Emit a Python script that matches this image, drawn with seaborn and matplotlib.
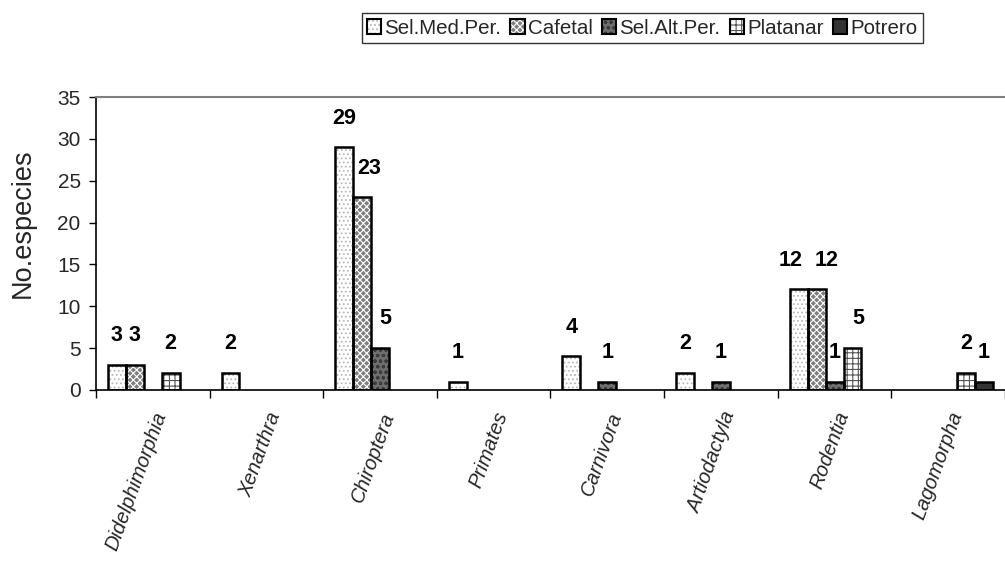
import matplotlib
matplotlib.use("Agg")
import matplotlib.pyplot as plt
from matplotlib.patches import Patch, Rectangle
from matplotlib.legend_handler import HandlerTuple
from matplotlib.ticker import FixedLocator, MultipleLocator
import seaborn as sns
import pandas as pd
import numpy as np

# --- data -------------------------------------------------------------
ordenes = ["Didelphimorphia", "Xenarthra", "Chiroptera", "Primates",
           "Carnivora", "Artiodactyla", "Rodentia", "Lagomorpha"]
habitats = ["Sel.Med.Per.", "Cafetal", "Sel.Alt.Per.", "Platanar", "Potrero"]

sel_med_per = [3, 2, 29, 1, 4, 2, 12, 0]
cafetal     = [3, 0, 23, 0, 0, 0, 12, 0]
sel_alt_per = [0, 0, 5, 0, 1, 1, 1, 0]
platanar    = [2, 0, 0, 0, 0, 0, 5, 2]
potrero     = [0, 0, 0, 0, 0, 0, 0, 1]

series = [sel_med_per, cafetal, sel_alt_per, platanar, potrero]

df = pd.DataFrame({
    "orden": np.tile(ordenes, len(habitats)),
    "habitat": np.repeat(habitats, len(ordenes)),
    "n": np.concatenate(series),
})

# --- styles -----------------------------------------------------------
face = ["#ffffff", "#7e7e7e", "#6e6e6e", "#ffffff", "#333333"]
hatch = ["....", "xxxxx", "ooo", "+++", ""]
hatch_col = ["#b8b8b8", "#ffffff", "#3a3a3a", "#555555", "#333333"]

# horizontal nudges (points) for value labels that would collide
nudge = {(1, 2): 5, (2, 2): 4, (0, 6): -6, (1, 6): 7, (3, 6): 4}

sns.set_theme(style="white")
plt.rcParams["font.family"] = ["Liberation Sans", "DejaVu Sans"]
plt.rcParams["hatch.linewidth"] = 0.8

fig = plt.figure(figsize=(10.05, 5.61), dpi=100)
ax = fig.add_axes([0.0955, 0.305, 0.9045, 0.522])

sns.barplot(data=df, x="orden", y="n", hue="habitat", order=ordenes,
            hue_order=habitats, palette=face, width=0.79, dodge=True,
            legend=False, ax=ax, saturation=1)

# textures first, then a crisp black outline on each visible bar
for k, cont in enumerate(ax.containers):
    for j, (p, v) in enumerate(zip(cont.patches, series[k])):
        p.set_hatch(hatch[k])
        p.set_edgecolor(hatch_col[k])
        p.set_linewidth(0)
        if v > 0:
            ax.add_patch(Rectangle(p.get_xy(), p.get_width(), p.get_height(),
                                   fill=False, ec="black", lw=1.8, zorder=3))
            ax.annotate(str(v), (p.get_x() + p.get_width() / 2, v),
                        xytext=(nudge.get((k, j), 0), 21),
                        textcoords="offset points",
                        ha="center", va="center", fontsize=15.5,
                        fontweight="bold", color="black", zorder=4)
        else:
            p.set_visible(False)

# --- axes -------------------------------------------------------------
ax.set_ylim(0, 35)
ax.set_xlim(-0.5, len(ordenes) - 0.5)
ax.yaxis.set_major_locator(MultipleLocator(5))
ax.tick_params(axis="y", which="major", direction="out", length=5,
               width=1, color="black", labelsize=15, pad=6, left=True)

ax.xaxis.set_major_locator(FixedLocator(np.arange(-0.5, len(ordenes), 1.0)))
ax.xaxis.set_minor_locator(FixedLocator(np.arange(len(ordenes))))
ax.set_xticklabels([], minor=False)
ax.set_xticklabels(ordenes, minor=True, rotation=70, ha="right",
                   rotation_mode="anchor", fontstyle="italic", fontsize=14.5)
ax.tick_params(axis="x", which="major", direction="out", length=6,
               width=1, color="black", bottom=True)
ax.tick_params(axis="x", which="minor", length=0, pad=14)

ax.set_xlabel("")
ax.set_ylabel("No.especies", fontsize=19.5)
ax.yaxis.set_label_coords(-0.066, 0.57)

for side in ("left", "bottom"):
    ax.spines[side].set_color("black")
    ax.spines[side].set_linewidth(1.2)
ax.spines["top"].set_color("#808080")
ax.spines["top"].set_linewidth(1.5)
ax.spines["right"].set_visible(False)

# --- legend -----------------------------------------------------------
handles = [(Patch(facecolor=face[k], hatch=hatch[k], edgecolor=hatch_col[k], lw=0),
            Patch(fill=False, edgecolor="black", lw=1.5))
           for k in range(len(habitats))]
leg = fig.legend(handles, habitats, loc="center", bbox_to_anchor=(0.639, 0.95),
                 ncol=5, fontsize=14.8, frameon=True, fancybox=False,
                 handlelength=0.7, handleheight=0.7, handletextpad=0.15,
                 columnspacing=0.45, borderpad=0.25, borderaxespad=0,
                 handler_map={tuple: HandlerTuple(ndivide=1, pad=0)})
leg.get_frame().set_edgecolor("black")
leg.get_frame().set_linewidth(1.0)

fig.savefig("out.png", dpi=100)
